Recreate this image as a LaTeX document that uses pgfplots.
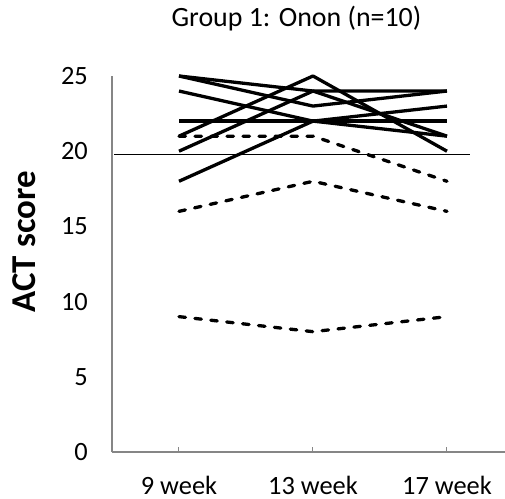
\documentclass[border=0pt]{standalone}
\usepackage{fontspec}
\setmainfont{Carlito}
\usepackage{pgfplots}
\pgfplotsset{compat=1.18}
\definecolor{axisgray}{HTML}{868686}
\pgfplotsset{
  solidser/.style={black, solid, no markers, line width=3.3bp, line join=round},
  dashser/.style={black, no markers, line width=3.3bp, line join=round, line cap=round, dash pattern=on 6.5bp off 9.5bp},
}
\begin{document}
\begin{tikzpicture}
\path[use as bounding box] (0,0) rectangle (505bp,499bp);
\begin{axis}[
  at={(112bp,47bp)}, anchor=south west,
  scale only axis, width=393bp, height=376bp,
  xmin=-0.5, xmax=2.433, ymin=0, ymax=25,
  clip=false,
  axis lines*=left,
  axis line style={-, draw=axisgray, line width=1.1bp},
  xtick={0,1,2}, xticklabels={9 week,13 week,17 week},
  ytick={0,5,10,15,20,25},
  /pgf/number format/assume math mode=true,
  tick align=inside,
  major tick length=5bp,
  xtick style={draw=axisgray, line width=1bp},
  ytick style={draw=none},
  tick label style={font=\fontsize{26.5}{30}\selectfont, inner sep=0pt},
  xticklabel style={anchor=base, yshift=-42bp},
  yticklabel style={anchor=east, xshift=-24bp},
  ylabel={ACT score},
  ylabel style={font=\fontsize{35}{40}\selectfont\bfseries, at={(axis description cs:-0.224,0.559)}, anchor=center, inner sep=0pt},
  title={Group 1: Onon (n=10)},
  title style={font=\fontsize{28}{32}\selectfont, at={(axis description cs:0.4695,1.117)}, anchor=base, inner sep=0pt},
]
% solid series
\addplot[solidser] coordinates {(0,25) (1,24) (2,24)};
\addplot[solidser] coordinates {(0,25) (1,23) (2,24)};
\addplot[solidser] coordinates {(0,24) (1,22) (2,21)};
\addplot[solidser] coordinates {(0,22) (1,22) (2,22)};
\addplot[solidser] coordinates {(0,21) (1,25) (2,20)};
\addplot[solidser] coordinates {(0,20) (1,24) (2,21)};
\addplot[solidser] coordinates {(0,18) (1,22) (2,23)};
% dashed series
\addplot[dashser] coordinates {(0,21) (1,21) (2,18)};
\addplot[dashser] coordinates {(0,16) (1,18) (2,16)};
\addplot[dashser] coordinates {(0,9) (1,8) (2,9)};
% reference line
\addplot[black, solid, no markers, line width=1.3bp] coordinates {(-0.485,19.8) (2.17,19.8)};
\end{axis}
\end{tikzpicture}
\end{document}
